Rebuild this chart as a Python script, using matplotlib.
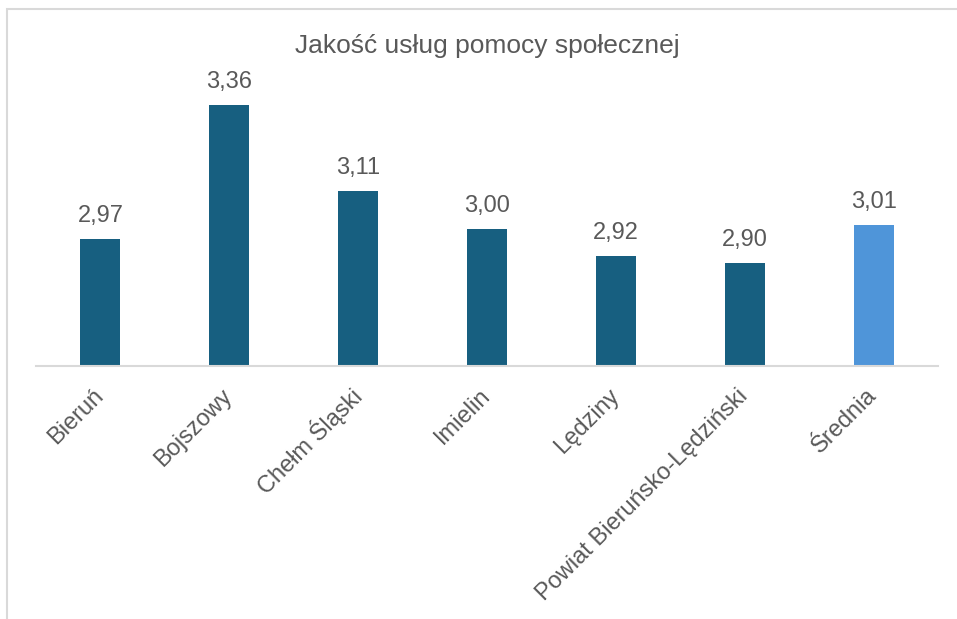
import matplotlib
matplotlib.use("Agg")
import matplotlib.pyplot as plt
from matplotlib.patches import Rectangle

categories = ["Bieruń", "Bojszowy", "Chełm Śląski", "Imielin", "Lędziny",
              "Powiat Bieruńsko-Lędziński", "Średnia"]
values = [2.97, 3.36, 3.11, 3.00, 2.92, 2.90, 3.01]
title = "Jakość usług pomocy społecznej"

dark = "#175f80"
light = "#4f95d9"
text_color = "#595959"
colors = [dark] * 6 + [light]

plt.rcParams["font.family"] = ["Liberation Sans", "DejaVu Sans"]

fig = plt.figure(figsize=(9.57, 6.19), dpi=100)
fig.patch.set_facecolor("white")

# chart area outline
fig.patches.append(Rectangle((7 / 957, -0.1), 1.2, 1 - 9 / 619 + 0.1,
                             transform=fig.transFigure, fill=False,
                             edgecolor="#d9d9d9", linewidth=1.5))

ax = fig.add_axes([36 / 957, 1 - 366 / 619, (938 - 36) / 957, (366 - 91) / 619])
x = list(range(len(categories)))
bars = ax.bar(x, values, width=0.31, color=colors, zorder=2)
ax.set_xlim(-0.5, len(categories) - 0.5)
ax.set_ylim(2.6, 3.4)

for rect, v in zip(bars, values):
    ax.annotate(f"{v:.2f}".replace(".", ","),
                (rect.get_x() + rect.get_width() / 2, v),
                xytext=(0, 12), textcoords="offset points",
                ha="center", va="baseline", fontsize=17, color=text_color)

ax.set_xticks(x)
ax.set_xticklabels(categories, rotation=45, ha="right", va="center",
                   rotation_mode="anchor", fontsize=17, color=text_color)
ax.tick_params(axis="x", length=0, pad=19)
ax.set_yticks([])
for side in ["top", "right", "left"]:
    ax.spines[side].set_visible(False)
ax.spines["bottom"].set_color("#d9d9d9")
ax.spines["bottom"].set_linewidth(1.5)
ax.spines["bottom"].set_zorder(3)

fig.text((36 + 938) / 2 / 957, 1 - 46 / 619, title, ha="center", va="center",
         fontsize=19, color=text_color)

fig.savefig("out.png", dpi=100)
